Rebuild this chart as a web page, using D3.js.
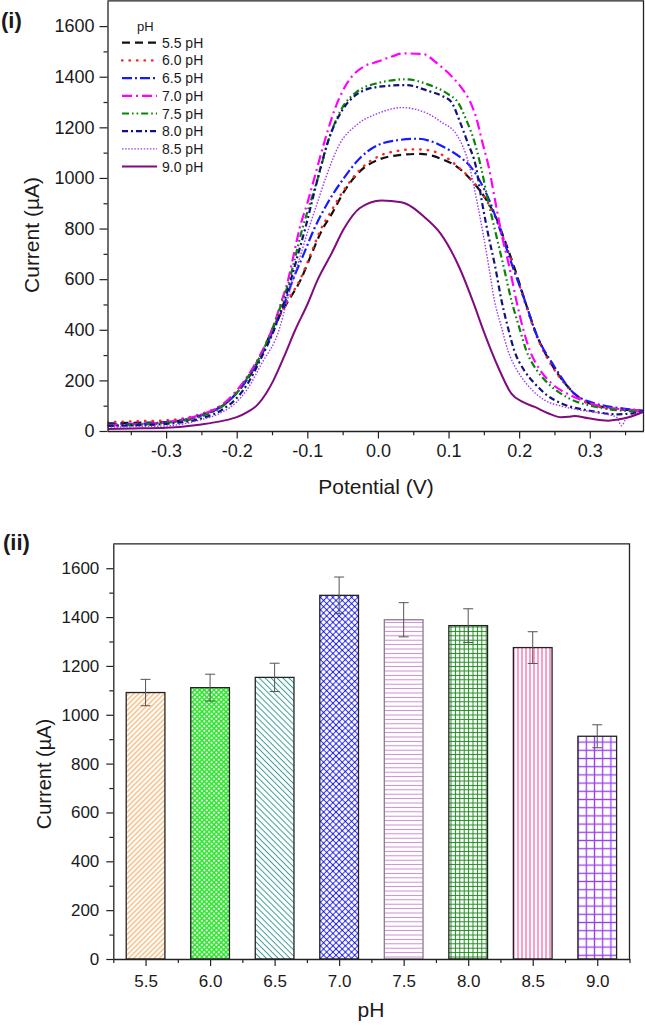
<!DOCTYPE html>
<html><head><meta charset="utf-8">
<script src="https://cdn.jsdelivr.net/npm/d3@7"></script>
<style>
body{margin:0;background:#fff}
svg{display:block}
text{font-family:"Liberation Sans",Arial,sans-serif;fill:#1a1a1a}
</style>
</head><body>
<svg id="c" width="645" height="1026"></svg>
<script>
// ---------- DATA: panel (i) differential pulse curves (potential V, current µA) ----------
const seriesNames = ["5.5 pH","6.0 pH","6.5 pH","7.0 pH","7.5 pH","8.0 pH","8.5 pH","9.0 pH"];
const s55 = [[-0.383,30],[-0.35,32],[-0.3,35],[-0.25,62],[-0.22,100],[-0.2,150],[-0.185,205],[-0.165,300],[-0.15,400],[-0.13,500],[-0.109,600],[-0.094,700],[-0.08,790],[-0.065,860],[-0.048,946],[-0.026,1025],[0,1071],[0.03,1090],[0.06,1095],[0.09,1075],[0.113,1042],[0.137,976],[0.152,920],[0.167,845],[0.18,750],[0.193,648],[0.208,516],[0.224,385],[0.248,254],[0.269,175],[0.29,122],[0.31,100],[0.33,90],[0.376,80]];
const s60 = [[-0.383,35],[-0.35,38],[-0.3,42],[-0.25,68],[-0.22,105],[-0.2,155],[-0.185,210],[-0.165,305],[-0.15,400],[-0.13,505],[-0.11,600],[-0.095,700],[-0.082,790],[-0.067,865],[-0.048,953],[-0.026,1031],[0,1084],[0.03,1108],[0.05,1113],[0.07,1110],[0.089,1094],[0.113,1045],[0.137,978],[0.152,920],[0.167,840],[0.18,745],[0.193,640],[0.208,510],[0.224,380],[0.248,250],[0.27,170],[0.29,120],[0.31,98],[0.33,88],[0.376,80]];
const s65 = [[-0.383,25],[-0.35,28],[-0.3,35],[-0.25,62],[-0.22,100],[-0.2,150],[-0.185,205],[-0.165,300],[-0.148,400],[-0.133,500],[-0.12,600],[-0.105,700],[-0.09,800],[-0.07,907],[-0.048,1000],[-0.026,1077],[0,1130],[0.03,1150],[0.056,1155],[0.075,1145],[0.094,1121],[0.115,1085],[0.132,1042],[0.145,985],[0.158,910],[0.175,779],[0.191,648],[0.208,516],[0.224,385],[0.25,254],[0.278,148],[0.3,115],[0.317,102],[0.35,88],[0.376,80]];
const s70 = [[-0.383,22],[-0.35,25],[-0.3,35],[-0.25,65],[-0.22,105],[-0.2,160],[-0.185,215],[-0.165,310],[-0.15,400],[-0.138,500],[-0.127,600],[-0.119,700],[-0.111,800],[-0.1,900],[-0.09,1000],[-0.075,1150],[-0.06,1280],[-0.04,1390],[-0.02,1440],[0,1460],[0.02,1480],[0.035,1492],[0.063,1490],[0.085,1450],[0.105,1400],[0.12,1350],[0.13,1305],[0.14,1230],[0.148,1140],[0.157,1042],[0.166,910],[0.175,779],[0.186,650],[0.196,516],[0.205,410],[0.215,319],[0.23,240],[0.246,188],[0.27,145],[0.295,115],[0.317,96],[0.35,85],[0.376,80]];
const s75 = [[-0.383,20],[-0.35,24],[-0.3,32],[-0.25,58],[-0.22,98],[-0.2,150],[-0.185,210],[-0.165,305],[-0.15,400],[-0.137,500],[-0.125,600],[-0.116,700],[-0.107,800],[-0.096,900],[-0.085,1000],[-0.07,1150],[-0.05,1280],[-0.03,1340],[0,1375],[0.04,1390],[0.07,1370],[0.1,1330],[0.113,1300],[0.125,1230],[0.137,1140],[0.146,1042],[0.156,910],[0.167,779],[0.178,650],[0.189,516],[0.2,410],[0.21,319],[0.225,240],[0.241,188],[0.27,130],[0.307,96],[0.34,82],[0.376,76]];
const s80 = [[-0.383,20],[-0.35,22],[-0.3,28],[-0.25,50],[-0.22,85],[-0.2,130],[-0.185,185],[-0.165,290],[-0.147,400],[-0.134,500],[-0.123,600],[-0.113,700],[-0.103,800],[-0.094,900],[-0.085,1000],[-0.07,1150],[-0.05,1270],[-0.03,1330],[0,1360],[0.04,1367],[0.07,1345],[0.09,1325],[0.104,1300],[0.115,1230],[0.127,1140],[0.139,1042],[0.147,910],[0.156,779],[0.166,650],[0.175,516],[0.184,410],[0.193,319],[0.207,240],[0.222,188],[0.24,140],[0.26,109],[0.3,80],[0.34,66],[0.376,76]];
const s85 = [[-0.383,15],[-0.35,17],[-0.3,20],[-0.25,45],[-0.22,75],[-0.2,115],[-0.185,165],[-0.165,265],[-0.14,400],[-0.13,500],[-0.12,600],[-0.109,700],[-0.098,800],[-0.086,900],[-0.074,1000],[-0.055,1130],[-0.03,1210],[0,1255],[0.034,1278],[0.07,1255],[0.09,1220],[0.111,1173],[0.13,1042],[0.14,910],[0.149,779],[0.157,650],[0.165,516],[0.175,410],[0.184,319],[0.197,240],[0.21,188],[0.236,122],[0.26,98],[0.293,80],[0.32,68],[0.338,55],[0.345,21],[0.352,50],[0.376,76]];
const s90 = [[-0.383,8],[-0.35,10],[-0.3,13],[-0.25,26],[-0.22,40],[-0.2,55],[-0.185,75],[-0.17,105],[-0.158,150],[-0.148,200],[-0.132,300],[-0.117,400],[-0.1,500],[-0.085,600],[-0.066,700],[-0.048,800],[-0.026,880],[0.005,911],[0.033,904],[0.066,845],[0.089,779],[0.115,648],[0.134,516],[0.151,385],[0.17,254],[0.189,148],[0.205,115],[0.222,95],[0.241,70],[0.26,54],[0.27,56],[0.278,59],[0.298,50],[0.326,41],[0.34,45],[0.355,54],[0.376,76]];
const curveSeries = [s55, s60, s65, s70, s75, s80, s85, s90];

// ---------- DATA: panel (ii) peak currents ----------
const phCategories = [5.5, 6.0, 6.5, 7.0, 7.5, 8.0, 8.5, 9.0];
const barCurrent   = [1091, 1111, 1153, 1489, 1389, 1365, 1275, 912];
const barError     = [54, 55, 58, 75, 70, 69, 65, 47];

// ---------- tick values / labels ----------
const topXTicks = [-0.3, -0.2, -0.1, 0.0, 0.1, 0.2, 0.3];
const topXMinor = [-0.35, -0.25, -0.15, -0.05, 0.05, 0.15, 0.25, 0.35];
const yTicks = [0, 200, 400, 600, 800, 1000, 1200, 1400, 1600];
const yMinor = [100, 300, 500, 700, 900, 1100, 1300, 1500];
const barXMinor = [5.25, 5.75, 6.25, 6.75, 7.25, 7.75, 8.25, 8.75, 9.25];

// ---------- styles ----------
const lineStyles = [
  {c:"#111111", w:2.2, d:"8,5", cap:"butt"},
  {c:"#ff2222", w:2.4, d:"0.5,7", cap:"round"},
  {c:"#1a1aff", w:2.2, d:"10,3,2,3", cap:"butt"},
  {c:"#ff00ff", w:2.2, d:"10,4,2,4", cap:"butt"},
  {c:"#0b830b", w:2.2, d:"7,3,1.6,3,1.6,3", cap:"butt"},
  {c:"#12127a", w:2.2, d:"6,3,2,3", cap:"butt"},
  {c:"#9b3cf5", w:1.4, d:"1.5,1.6", cap:"butt"},
  {c:"#800a80", w:2.0, d:null, cap:"butt"}
];
const barStyles = [
  {type:"diagUp",   c:"#f4a04a", s:3.6, w:1},
  {type:"dots",     c:"#2ee62e", s:3.4, w:1.1},
  {type:"diagDown", c:"#3f9a9a", s:4.2, w:1},
  {type:"cross",    c:"#3b3bff", s:4.4, w:1},
  {type:"horiz",    c:"#c98bd0", s:4.4, w:1},
  {type:"grid",     c:"#1e8a1e", s:4.4, w:1},
  {type:"vert",     c:"#ff3a95", s:4.0, w:1},
  {type:"grid",     c:"#9a40f0", s:8.2, w:1.3}
];

const svg = d3.select("#c");
const defs = svg.append("defs");
const fmtInt = d3.format("d");

// ================= PANEL (i) =================
const P1 = {l:107.5, r:643.5, t:0.8, b:431};
const x1 = d3.scaleLinear().domain([-0.383, 0.3761]).range([P1.l, P1.r]);
const y1 = d3.scaleLinear().domain([0, 1700]).range([P1.b, P1.t]);

defs.append("clipPath").attr("id","clip1").append("rect")
  .attr("x",P1.l).attr("y",P1.t).attr("width",P1.r-P1.l).attr("height",P1.b-P1.t);

const g1 = svg.append("g");
const line1 = d3.line().x(d=>x1(d[0])).y(d=>y1(d[1])).curve(d3.curveMonotoneX);
const curvesG = g1.append("g").attr("clip-path","url(#clip1)");
curveSeries.forEach((s,i)=>{
  const st = lineStyles[i];
  curvesG.append("path").datum(s).attr("d",line1)
    .attr("fill","none").attr("stroke",st.c).attr("stroke-width",st.w)
    .attr("stroke-dasharray",st.d).attr("stroke-linecap",st.cap).attr("stroke-linejoin","round");
});

function styleAxis(g, fs){
  g.selectAll("path.domain").attr("stroke","#222").attr("stroke-width",1.3);
  g.selectAll(".tick line").attr("stroke","#222").attr("stroke-width",1.2);
  g.selectAll(".tick text").style("font-size",fs+"px").attr("fill","#1a1a1a");
}

// axes panel i
const ax1 = g1.append("g").attr("transform",`translate(0,${P1.b})`)
  .call(d3.axisBottom(x1).tickValues(topXTicks).tickSize(7.5).tickSizeOuter(0).tickPadding(6)
    .tickFormat(d=>d3.format(".1f")(d).replace("\u2212","-")));
styleAxis(ax1,18);
const ax1m = g1.append("g").attr("transform",`translate(0,${P1.b})`)
  .call(d3.axisBottom(x1).tickValues(topXMinor).tickSize(4.3).tickFormat(""));
ax1m.select("path.domain").remove(); styleAxis(ax1m,1);
const ay1 = g1.append("g").attr("transform",`translate(${P1.l},0)`)
  .call(d3.axisLeft(y1).tickValues(yTicks).tickSize(8).tickSizeOuter(0).tickPadding(5).tickFormat(fmtInt));
styleAxis(ay1,18);
const ay1m = g1.append("g").attr("transform",`translate(${P1.l},0)`)
  .call(d3.axisLeft(y1).tickValues(yMinor).tickSize(4).tickFormat(""));
ay1m.select("path.domain").remove(); styleAxis(ay1m,1);
// frame top/right
g1.append("path").attr("d",`M${P1.l},${P1.t}H${P1.r}V${P1.b}`).attr("fill","none").attr("stroke","#222").attr("stroke-width",1.3);

// legend
const lg = g1.append("g");
lg.append("text").attr("x",137).attr("y",26).attr("dy","0.35em").style("font-size","13px").text("pH");
seriesNames.forEach((n,i)=>{
  const yy = 42.7 + i*17.7, st = lineStyles[i];
  lg.append("line").attr("x1",122).attr("x2",157).attr("y1",yy).attr("y2",yy)
    .attr("stroke",st.c).attr("stroke-width",st.w).attr("stroke-dasharray",st.d).attr("stroke-linecap",st.cap);
  lg.append("text").attr("x",162).attr("y",yy).attr("dy","0.36em").style("font-size","14px").text(n);
});

// titles
svg.append("text").attr("x",1).attr("y",28).style("font-size","22px").style("font-weight","bold").text("(i)");
svg.append("text").attr("transform",`translate(39,235) rotate(-90)`).attr("text-anchor","middle")
  .style("font-size","21px").text("Current (µA)");
svg.append("text").attr("x",376).attr("y",494).attr("text-anchor","middle").style("font-size","21px").text("Potential (V)");

// ================= PANEL (ii) =================
const P2 = {l:113.3, r:629.5, t:543.8, b:959};
const x2 = d3.scaleLinear().domain([5.25, 9.25]).range([P2.l, P2.r]);
const y2 = d3.scaleLinear().domain([0, 1700]).range([P2.b, P2.t]);
const barW = x2(5.8) - x2(5.5);

// patterns
barStyles.forEach((b,i)=>{
  const s = b.s;
  const p = defs.append("pattern").attr("id","pat"+i).attr("patternUnits","userSpaceOnUse")
    .attr("width",s).attr("height",s);
  p.append("rect").attr("width",s).attr("height",s).attr("fill","#fff");
  const ln = (a,b2,c,d)=>p.append("line").attr("x1",a).attr("y1",b2).attr("x2",c).attr("y2",d)
      .attr("stroke",b.c).attr("stroke-width",b.w);
  if(b.type==="diagUp"){ p.attr("patternTransform","rotate(45)"); ln(s/2,0,s/2,s); }
  else if(b.type==="diagDown"){ p.attr("patternTransform","rotate(-45)"); ln(s/2,0,s/2,s); }
  else if(b.type==="cross"){ p.attr("patternTransform","rotate(45)"); ln(s/2,0,s/2,s); ln(0,s/2,s,s/2);
      p.append("circle").attr("cx",s/2).attr("cy",s/2).attr("r",0.9).attr("fill","#1010d0"); }
  else if(b.type==="horiz"){ ln(0,s/2,s,s/2); }
  else if(b.type==="vert"){ ln(s/2,0,s/2,s); }
  else if(b.type==="grid"){ ln(s/2,0,s/2,s); ln(0,s/2,s,s/2); }
  else if(b.type==="dots"){ p.attr("patternTransform","rotate(45)");
      p.select("rect").attr("fill",b.c);
      p.append("circle").attr("cx",s/2).attr("cy",s/2).attr("r",1.05).attr("fill","#fff"); }
});

const g2 = svg.append("g");
const bars = g2.selectAll("g.bar").data(phCategories).enter().append("g");
bars.append("rect")
  .attr("x",(d)=>x2(d)-barW/2).attr("width",barW)
  .attr("y",(d,i)=>y2(barCurrent[i])).attr("height",(d,i)=>y2(0)-y2(barCurrent[i]))
  .attr("fill",(d,i)=>`url(#pat${i})`)
  .attr("stroke",(d,i)=> i===4 ? "#8a7a8f" : "#222").attr("stroke-width",1.3);
// error bars
bars.each(function(d,i){
  const g = d3.select(this), cx = x2(d), top = y2(barCurrent[i]+barError[i]), bot = y2(barCurrent[i]-barError[i]);
  g.append("line").attr("x1",cx).attr("x2",cx).attr("y1",top).attr("y2",bot).attr("stroke","#555").attr("stroke-width",1);
  [top,bot].forEach(yy=>g.append("line").attr("x1",cx-5).attr("x2",cx+5).attr("y1",yy).attr("y2",yy).attr("stroke","#555").attr("stroke-width",1));
});

const ax2 = g2.append("g").attr("transform",`translate(0,${P2.b})`)
  .call(d3.axisBottom(x2).tickValues(phCategories).tickSize(7).tickSizeOuter(0).tickPadding(9).tickFormat(d3.format(".1f")));
styleAxis(ax2,17);
const ax2m = g2.append("g").attr("transform",`translate(0,${P2.b})`)
  .call(d3.axisBottom(x2).tickValues(barXMinor).tickSize(4).tickFormat(""));
ax2m.select("path.domain").remove(); styleAxis(ax2m,1);
const ay2 = g2.append("g").attr("transform",`translate(${P2.l},0)`)
  .call(d3.axisLeft(y2).tickValues(yTicks).tickSize(7).tickSizeOuter(0).tickPadding(7).tickFormat(fmtInt));
styleAxis(ay2,17);
const ay2m = g2.append("g").attr("transform",`translate(${P2.l},0)`)
  .call(d3.axisLeft(y2).tickValues(yMinor).tickSize(4).tickFormat(""));
ay2m.select("path.domain").remove(); styleAxis(ay2m,1);
g2.append("path").attr("d",`M${P2.l},${P2.t}H${P2.r}V${P2.b}`).attr("fill","none").attr("stroke","#222").attr("stroke-width",1.3);

svg.append("text").attr("x",3).attr("y",550).style("font-size","22px").style("font-weight","bold").text("(ii)");
svg.append("text").attr("transform",`translate(51,774) rotate(-90)`).attr("text-anchor","middle")
  .style("font-size","20px").text("Current (µA)");
svg.append("text").attr("x",371).attr("y",1017).attr("text-anchor","middle").style("font-size","21px").text("pH");
</script>
</body></html>
